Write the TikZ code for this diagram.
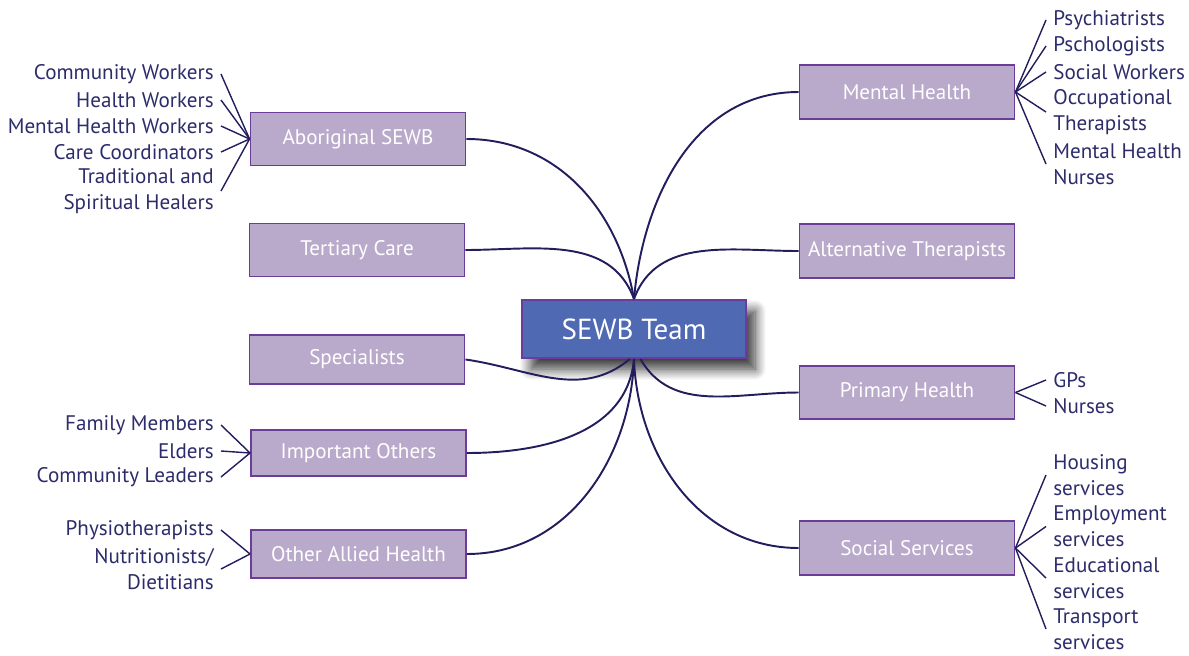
\documentclass[tikz,border=0pt]{standalone}
\usepackage{fontspec}
\setmainfont{PT Sans}
\usepackage{tikz}
\usepackage{xcolor}
\usetikzlibrary{shadows.blur}
\definecolor{boxfill}{HTML}{B9AACB}
\definecolor{boxline}{HTML}{6B3D98}
\definecolor{teamfill}{HTML}{4F69B3}
\definecolor{ink}{HTML}{2D2C6B}
\definecolor{wire}{HTML}{221D5C}
\tikzstyle{grp}=[draw=boxline,fill=boxfill,line width=1.1pt,minimum width=4.3cm,minimum height=1.04cm,text=white,font=\fontsize{12}{14.8}\selectfont]

\begin{document}
\begin{tikzpicture}
  \tikzstyle lf=[text=ink,font=\fontsize{12}{14.8}\selectfont,inner xsep=0.14cm,inner ysep=0pt];
  \tikzstyle ll=[lf,anchor=east,align=right];
  \tikzstyle rl=[lf,anchor=west,align=left];
  \tikzstyle br=[draw=wire,line width=1.1pt];
  \tikzstyle tw=[draw=wire,line width=0.8pt];
  \def\l{4.42}
  \def\r{20.92}

  \useasboundingbox (0,0) rectangle (23.78,-13.1);

  % team
  \node[draw=boxline,fill=teamfill,line width=1.1pt,minimum width=4.48cm,minimum height=1.16cm,
    text=white,font=\fontsize{16.5}{20}\selectfont,
    blur shadow={shadow xshift=0.18cm,shadow yshift=-0.22cm,shadow blur radius=0.22cm,shadow blur steps=10,shadow opacity=80}]
    (team) at (12.68,-6.58) {SEWB Team};

  % groups
  \node[grp,minimum height=1.06cm] (abo) at (7.16,-2.78) {Aboriginal SEWB};
  \node[grp,minimum height=1.06cm] (ter) at (7.14,-5.0) {Tertiary Care};
  \node[grp,minimum height=0.98cm] (spe) at (7.14,-7.19) {Specialists};
  \node[grp,minimum height=0.92cm] (imp) at (7.17,-9.06) {Important Others};
  \node[grp,minimum height=0.96cm] (oah) at (7.17,-11.08) {Other Allied Health};
  \node[grp,minimum height=1.08cm] (mh) at (18.14,-1.84) {Mental Health};
  \node[grp,minimum height=1.08cm] (alt) at (18.14,-5.02) {Alternative Therapists};
  \node[grp,minimum height=1.06cm] (ph) at (18.14,-7.85) {Primary Health};
  \node[grp,minimum height=1.08cm] (ss) at (18.14,-10.96) {Social Services};

  % branches to team
  \draw[br] (abo.east) to[out=0,in=100] (team.north);
  \draw[br] (ter.east) to[out=0,in=110] (team.north);
  \draw[br] (mh.west) to[out=180,in=85] (team.north);
  \draw[br] (alt.west) to[out=180,in=70] (team.north);
  \draw[br] (spe.east) to[out=-8,in=-140] (team.-98);
  \draw[br] (imp.east) to[out=0,in=-95] (team.south);
  \draw[br] (oah.east) to[out=0,in=-92] (team.south);
  \draw[br] (ss.west) to[out=180,in=-88] (team.south);
  \draw[br] (ph.west) to[out=180,in=-60] (team.-78);

  % left leaves
  \node[ll] (cw) at (\l,-1.48) {Community Workers};
  \node[ll] (hw) at (\l,-2.0) {Health Workers};
  \node[ll] (mhw) at (\l,-2.52) {Mental Health Workers};
  \node[ll] (cc) at (\l,-3.04) {Care Coordinators};
  \node[ll] (tsh) at (\l,-3.82) {Traditional and\\Spiritual Healers};
  \node[ll] (fm) at (\l,-8.5) {Family Members};
  \node[ll] (eld) at (\l,-9.02) {Elders};
  \node[ll] (cl) at (\l,-9.54) {Community Leaders};
  \node[ll] (phy) at (\l,-10.6) {Physiotherapists};
  \node[ll] (nut) at (\l,-11.38) {Nutritionists/\\Dietitians};

  % right leaves
  \node[rl] (psy) at (\r,-0.4) {Psychiatrists};
  \node[rl] (psc) at (\r,-0.92) {Pschologists};
  \node[rl] (sw) at (\r,-1.44) {Social Workers};
  \node[rl] (ot) at (\r,-2.24) {Occupational\\Therapists};
  \node[rl] (mhn) at (\r,-3.28) {Mental Health\\Nurses};
  \node[rl] (gp) at (\r,-7.6) {GPs};
  \node[rl] (nu) at (\r,-8.12) {Nurses};
  \node[rl] (hou) at (\r,-9.5) {Housing\\services};
  \node[rl] (emp) at (\r,-10.53) {Employment\\services};
  \node[rl] (edu) at (\r,-11.56) {Educational\\services};
  \node[rl] (tra) at (\r,-12.58) {Transport\\services};

  % twigs
  \foreach \t in {cw,hw,mhw,cc,tsh} \draw[tw] (abo.west) -- (\t.east);
  \foreach \t in {fm,eld,cl} \draw[tw] (imp.west) -- (\t.east);
  \foreach \t in {phy,nut} \draw[tw] (oah.west) -- (\t.east);
  \foreach \t in {psy,psc,sw,ot,mhn} \draw[tw] (mh.east) -- (\t.west);
  \foreach \t in {gp,nu} \draw[tw] (ph.east) -- (\t.west);
  \foreach \t in {hou,emp,edu,tra} \draw[tw] (ss.east) -- (\t.west);
\end{tikzpicture}
\end{document}
